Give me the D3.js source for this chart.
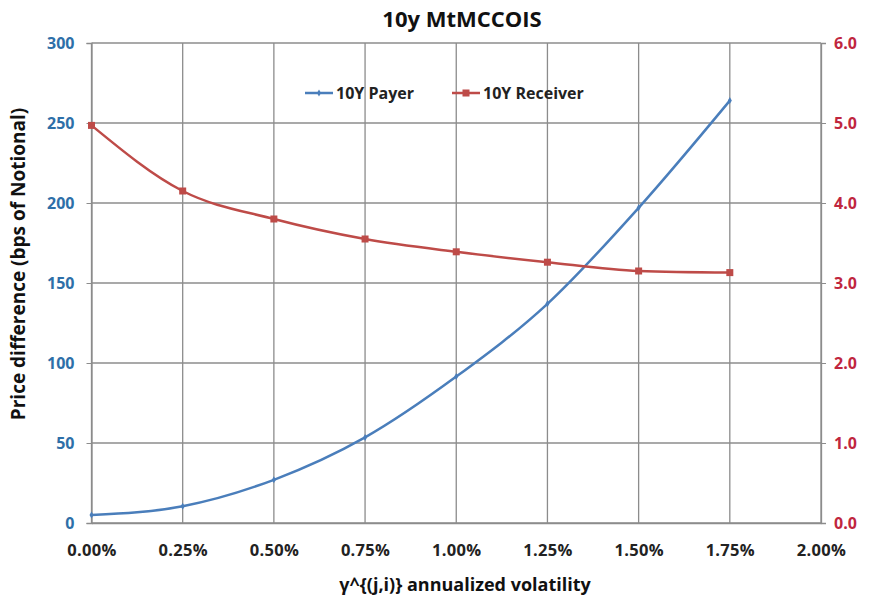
<!DOCTYPE html>
<html><head><meta charset="utf-8">
<script src="https://cdn.jsdelivr.net/npm/d3@7/dist/d3.min.js"></script>
<style>body{margin:0;background:#fff;font-family:"Open Sans","Liberation Sans",sans-serif;}</style>
</head><body><svg id="c" width="870" height="603"></svg>
<script>
const volatility = [0, 0.0025, 0.005, 0.0075, 0.01, 0.0125, 0.015, 0.0175];
const payer = [5, 10.5, 27, 53.5, 91.5, 137, 197, 264];
const receiver = [4.97, 4.15, 3.80, 3.55, 3.39, 3.26, 3.15, 3.13];
const xTicks = [0, 0.0025, 0.005, 0.0075, 0.01, 0.0125, 0.015, 0.0175, 0.02];
const leftTicks = [0, 50, 100, 150, 200, 250, 300];
const rightTicks = [0, 1, 2, 3, 4, 5, 6];
const seriesNames = ["10Y Payer", "10Y Receiver"];

const svg = d3.select("#c");
const L = 91.5, R = 821, T = 43, B = 523;
const x = d3.scaleLinear().domain([0, 0.02]).range([L, R]);
const yl = d3.scaleLinear().domain([0, 300]).range([B, T]);
const yr = d3.scaleLinear().domain([0, 6]).range([B, T]);
const grid = "#8c8c8c";
const FF = "Open Sans";

// grid
svg.append("g").selectAll("line").data(leftTicks).join("line")
  .attr("x1", L).attr("x2", R).attr("y1", d => yl(d)).attr("y2", d => yl(d))
  .attr("stroke", grid).attr("stroke-width", 1.3);
svg.append("g").selectAll("line").data(xTicks).join("line")
  .attr("x1", d => x(d)).attr("x2", d => x(d)).attr("y1", T).attr("y2", B)
  .attr("stroke", grid).attr("stroke-width", 1.3);

// axes
const gl = svg.append("g").attr("transform", `translate(${L},0)`)
  .call(d3.axisLeft(yl).tickValues(leftTicks).tickSize(5).tickPadding(12).tickFormat(d3.format("d")));
gl.select(".domain").attr("stroke", grid).attr("stroke-width", 1.3);
gl.selectAll(".tick line").attr("stroke", grid);
gl.selectAll("text").attr("fill", "#2e6fa8").attr("font-size", 16).attr("font-weight", "bold")
  .attr("font-family", FF);

const gr = svg.append("g").attr("transform", `translate(${R},0)`)
  .call(d3.axisRight(yr).tickValues(rightTicks).tickSize(5).tickPadding(8).tickFormat(d3.format(".1f")));
gr.select(".domain").attr("stroke", grid).attr("stroke-width", 1.3);
gr.selectAll(".tick line").attr("stroke", grid);
gr.selectAll("text").attr("fill", "#c0263e").attr("font-size", 16).attr("font-weight", "bold")
  .attr("font-family", FF);

const gb = svg.append("g").attr("transform", `translate(0,${B})`)
  .call(d3.axisBottom(x).tickValues(xTicks).tickSize(0).tickPadding(21).tickFormat(d3.format(".2%")));
gb.select(".domain").attr("stroke", grid).attr("stroke-width", 1.3);
gb.selectAll("text").attr("fill", "#222").attr("font-size", 16.5).attr("font-weight", "bold")
  .attr("font-family", FF).attr("letter-spacing", "0.3");

// lines
const blue = "#4a7ebb", red = "#be4b48";
const lp = d3.line().x((d, i) => x(volatility[i])).y(d => yl(d)).curve(d3.curveMonotoneX);
const lr = d3.line().x((d, i) => x(volatility[i])).y(d => yr(d)).curve(d3.curveMonotoneX);
svg.append("path").attr("d", lp(payer)).attr("fill", "none").attr("stroke", blue).attr("stroke-width", 2.5);
svg.append("path").attr("d", lr(receiver)).attr("fill", "none").attr("stroke", red).attr("stroke-width", 2.5);
svg.append("g").selectAll("path").data(payer).join("path")
  .attr("d", d3.symbol(d3.symbolDiamond, 14))
  .attr("transform", (d, i) => `translate(${x(volatility[i])},${yl(d)})`).attr("fill", blue);
svg.append("g").selectAll("rect").data(receiver).join("rect")
  .attr("x", (d, i) => x(volatility[i]) - 3.5).attr("y", d => yr(d) - 3.5)
  .attr("width", 7).attr("height", 7).attr("fill", red);

// legend
const lg = svg.append("g").attr("font-family", FF);
lg.append("line").attr("x1", 305).attr("x2", 333).attr("y1", 93).attr("y2", 93).attr("stroke", blue).attr("stroke-width", 2.5);
lg.append("path").attr("d", d3.symbol(d3.symbolDiamond, 14)).attr("transform", "translate(319,93)").attr("fill", blue);
lg.append("text").attr("x", 336).attr("y", 99).text(seriesNames[0])
  .attr("font-size", 16).attr("font-weight", "bold").attr("fill", "#222");
lg.append("line").attr("x1", 452).attr("x2", 480).attr("y1", 93).attr("y2", 93).attr("stroke", red).attr("stroke-width", 2.5);
lg.append("rect").attr("x", 462.5).attr("y", 89.5).attr("width", 7).attr("height", 7).attr("fill", red);
lg.append("text").attr("x", 483).attr("y", 99).text(seriesNames[1])
  .attr("font-size", 16).attr("font-weight", "bold").attr("fill", "#222");

// titles
svg.append("text").attr("x", 462).attr("y", 27).attr("text-anchor", "middle").attr("font-family", FF)
  .attr("font-size", 22).attr("font-weight", "bold").attr("fill", "#111").text("10y MtMCCOIS");
svg.append("text").attr("x", 465).attr("y", 591).attr("text-anchor", "middle").attr("font-family", FF)
  .attr("font-size", 18).attr("font-weight", "bold").attr("fill", "#111")
  .text("γ^{(j,i)} annualized volatility");
svg.append("text").attr("transform", "translate(25,264) rotate(-90)").attr("text-anchor", "middle").attr("font-family", FF)
  .attr("font-size", 19).attr("font-weight", "bold").attr("fill", "#111").text("Price difference (bps of Notional)");
</script></body></html>
